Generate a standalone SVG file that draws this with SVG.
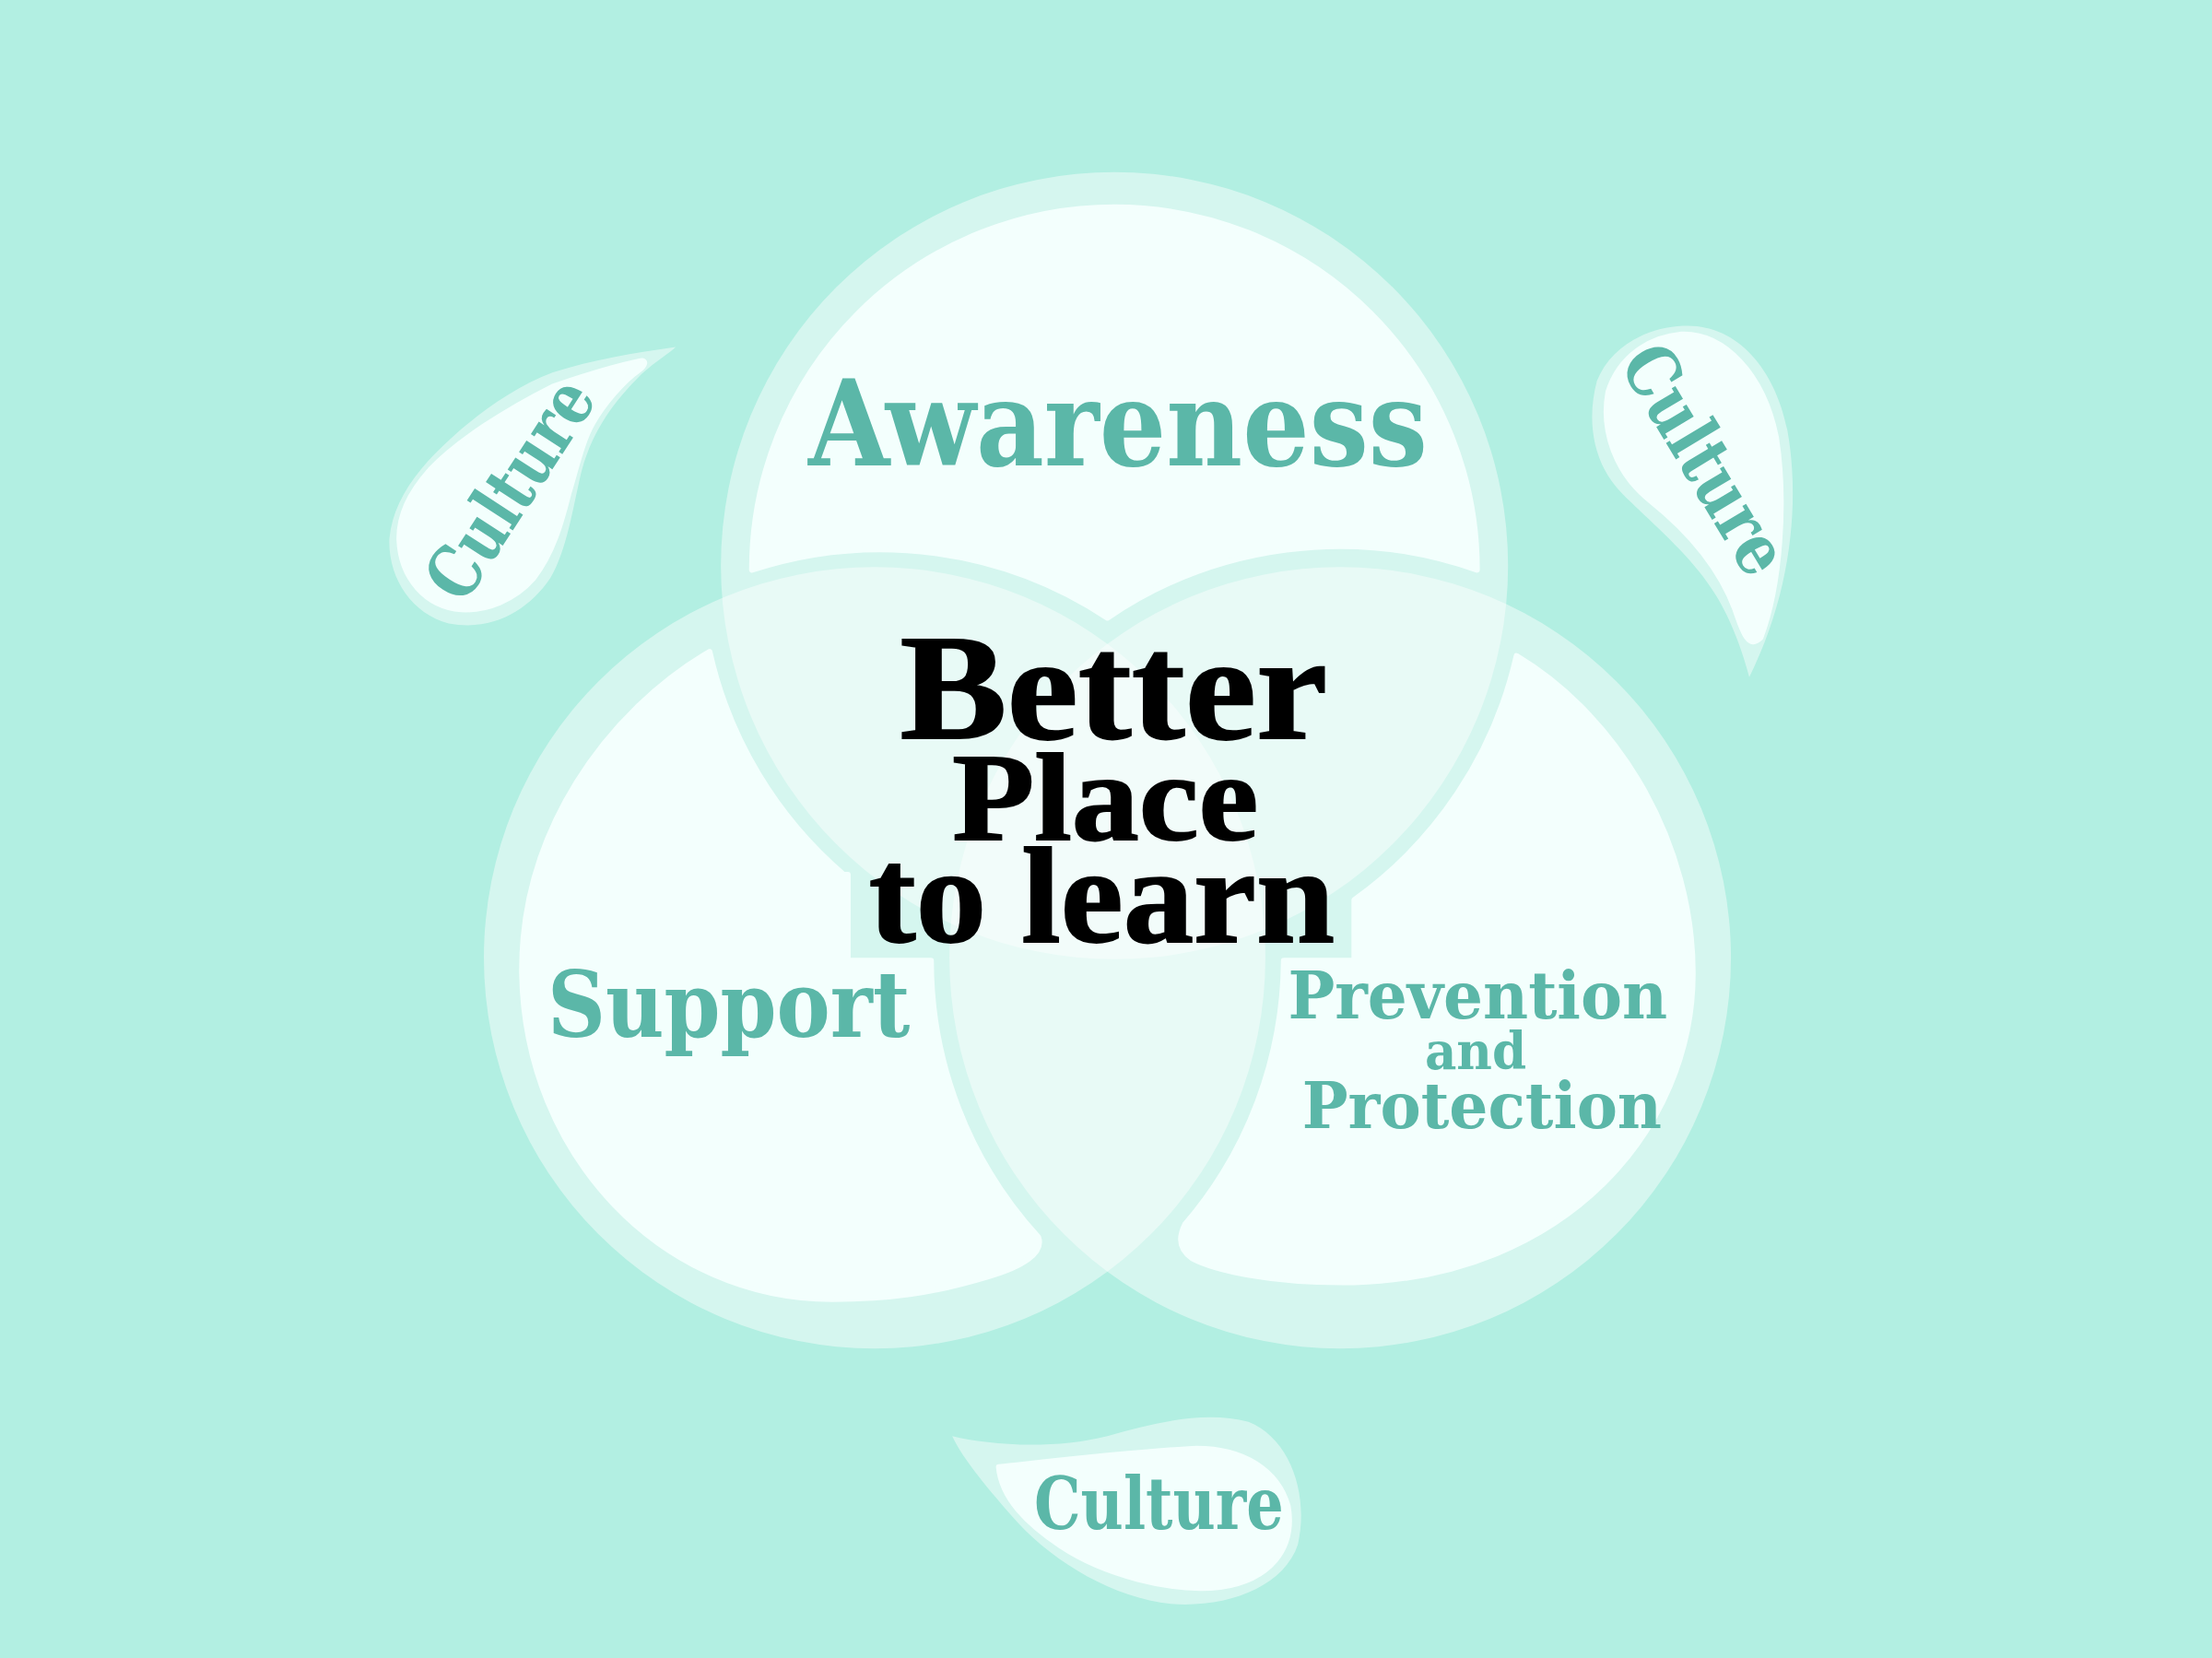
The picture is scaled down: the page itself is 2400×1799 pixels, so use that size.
<svg xmlns="http://www.w3.org/2000/svg" width="2400" height="1799" viewBox="0 0 2400 1799">
<defs>
<style>
.ring{fill:#ffffff;fill-opacity:0.45}
.inner{fill:#F3FFFD;stroke:#F3FFFD;stroke-width:4;stroke-linejoin:round}
.teal{fill:#5BB7A8;font-family:"DejaVu Serif","Liberation Serif",serif;font-weight:bold}
.blk{fill:#000000;stroke:#000000;stroke-width:1.2;font-family:"Liberation Serif","DejaVu Serif",serif;font-weight:bold}
</style>
</defs>
<rect width="2400" height="1799" fill="#B2EFE2"/>
<g transform="scale(1.530612)">
<g id="circles">
<circle id="circle-awareness" class="ring" cx="790" cy="401" r="279"/>
<circle id="circle-support" class="ring" cx="620" cy="679" r="277"/>
<circle id="circle-prevention" class="ring" cx="950" cy="679" r="277"/>
</g>
<g id="inner-shapes">
<path class="inner" d="M533,404 A257,257 0 1,1 1047,404 A292,292 0 0,0 785,438 A292,292 0 0,0 533,404 Z"/>
<path class="inner" d="M503,462 A292,292 0 0,0 598,620 L601,620 L601,681 L660,681 A290,290 0 0,0 736,877 C740,888 725,898 700,905 C660,917 630,921 590,921 C470,921 372,820 370,690 C369,590 430,505 503,462 Z"/>
<path class="inner" d="M1075,465 C1150,510 1200,600 1200,690 C1200,800 1110,905 960,909 C900,910 860,900 845,892 C835,885 836,876 840,868 A290,290 0 0,0 910,681 L960,681 L960,638 A292,292 0 0,0 1075,465 Z"/>
</g>
<g id="node-awareness">
<text class="teal" x="573" y="330" font-size="85" textLength="439" lengthAdjust="spacingAndGlyphs">Awareness</text>
</g>
<g id="node-support">
<text class="teal" x="388" y="735" font-size="65" textLength="257" lengthAdjust="spacingAndGlyphs">Support</text>
</g>
<g id="node-prevention">
<text class="teal" x="913" y="722" font-size="47" textLength="269" lengthAdjust="spacingAndGlyphs">Prevention</text>
<text class="teal" x="1010" y="758" font-size="37" textLength="72" lengthAdjust="spacingAndGlyphs">and</text>
<text class="teal" x="923" y="800" font-size="45" textLength="255" lengthAdjust="spacingAndGlyphs">Protection</text>
</g>
<g id="node-center">
<text class="blk" x="638" y="523" font-size="107" textLength="303" lengthAdjust="spacingAndGlyphs">Better</text>
<text class="blk" x="675" y="595" font-size="88" textLength="217" lengthAdjust="spacingAndGlyphs">Place</text>
<text class="blk" x="616" y="668" font-size="97" textLength="330" lengthAdjust="spacingAndGlyphs">to learn</text>
</g>
<g id="node-culture-left">
<path class="ring" d="M479,246 C450,250 420,255 392,264 C360,276 330,300 310,320 C290,340 278,360 276,382 C275,410 292,435 318,442 C350,448 375,432 390,410 C402,390 406,360 412,335 C420,305 435,285 455,265 C465,256 475,250 479,246 Z"/>
<path class="inner" d="M454,256 C430,261 410,268 392,274 C360,290 325,312 305,333 C290,350 283,365 283,382 C284,410 302,430 327,432 C345,433 365,425 378,410 C392,392 398,370 403,350 C409,330 413,312 420,300 C428,286 442,270 452,263 C458,259 458,255 454,256 Z"/>
<text class="teal" x="362" y="364" font-size="51" text-anchor="middle" textLength="175" lengthAdjust="spacingAndGlyphs" transform="rotate(-57 362 347)">Culture</text>
</g>
<g id="node-culture-right">
<path class="ring" d="M1193,231 C1230,229 1258,260 1267,305 C1276,355 1270,420 1240,480 C1236,465 1228,440 1215,420 C1200,395 1170,370 1150,350 C1130,330 1124,300 1132,270 C1142,245 1168,232 1193,231 Z"/>
<path class="inner" d="M1192,237 C1222,236 1250,265 1259,310 C1266,355 1262,415 1248,452 C1240,460 1236,450 1230,432 C1218,400 1195,375 1170,355 C1145,335 1135,305 1140,278 C1148,252 1170,239 1192,237 Z"/>
<text class="teal" x="1208" y="343" font-size="51" text-anchor="middle" textLength="180" lengthAdjust="spacingAndGlyphs" transform="rotate(59 1208 326)">Culture</text>
</g>
<g id="node-culture-bottom">
<path class="ring" d="M675,1018 C700,1024 745,1028 785,1018 C820,1008 855,1000 885,1008 C915,1020 928,1060 920,1095 C910,1125 870,1140 830,1137 C790,1133 748,1108 722,1080 C700,1055 683,1035 675,1018 Z"/>
<path class="inner" d="M708,1040 C745,1036 795,1030 845,1027 C882,1026 906,1043 913,1068 C918,1098 900,1120 865,1125 C830,1129 782,1116 752,1096 C728,1080 710,1062 708,1040 Z"/>
<text class="teal" x="733" y="1084" font-size="51" textLength="177" lengthAdjust="spacingAndGlyphs">Culture</text>
</g>
</g>
</svg>
